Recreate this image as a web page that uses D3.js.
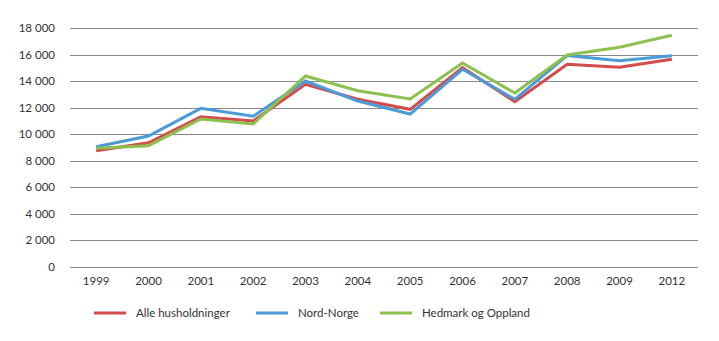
<!DOCTYPE html>
<html><head><meta charset="utf-8">
<script src="https://cdn.jsdelivr.net/npm/d3@7"></script>
<style>body{margin:0;background:#fff}text{font-family:Lato,sans-serif;fill:#333}</style>
</head><body><svg id="c" width="719" height="341"></svg>
<script>
const years = ["1999","2000","2001","2002","2003","2004","2005","2006","2007","2008","2009","2012"];
const alle = [8760,9360,11320,11000,13760,12630,11875,15010,12450,15265,15040,15640];
const nord = [9050,9866,11950,11350,14008,12500,11520,14890,12630,15920,15540,15915];
const hedmark = [8940,9136,11146,10770,14385,13280,12650,15364,13100,15966,16545,17450];
const yTicks = [0,2000,4000,6000,8000,10000,12000,14000,16000,18000];
const seriesNames = ["Alle husholdninger","Nord-Norge","Hedmark og Oppland"];

const colors = ["#d44b4c","#4a9bd7","#8dc04f"];
const svg = d3.select("#c");
const x = d3.scalePoint().domain(years).range([70,698]).padding(0.5);
const y = d3.scaleLinear().domain([0,18000]).range([267,28]);
const fmt = d => d3.format(",")(d).replace(/,/g," ");

svg.append("g").selectAll("line").data(yTicks).join("line")
  .attr("x1",70).attr("x2",698)
  .attr("y1",d=>Math.round(y(d))+0.5).attr("y2",d=>Math.round(y(d))+0.5)
  .attr("stroke","#8a8a8a").attr("stroke-width",1);
svg.append("g").selectAll("text").data(yTicks).join("text")
  .attr("x",55).attr("y",d=>y(d)+4).attr("text-anchor","end")
  .attr("font-size",11.5).text(fmt);
svg.append("g").selectAll("text").data(years).join("text")
  .attr("x",d=>x(d)).attr("y",285).attr("text-anchor","middle")
  .attr("font-size",11.5).text(d=>d);

const line = d3.line().x((d,i)=>x(years[i])).y(d=>y(d));
[alle,nord,hedmark].forEach((s,i)=>{
  svg.append("path").datum(s).attr("d",line).attr("fill","none")
    .attr("stroke",colors[i]).attr("stroke-width",3).attr("stroke-linejoin","miter");
});
const lx=[94,256,380];
seriesNames.forEach((n,i)=>{
  svg.append("line").attr("x1",lx[i]).attr("x2",lx[i]+32).attr("y1",313).attr("y2",313)
    .attr("stroke",colors[i]).attr("stroke-width",3);
  svg.append("text").attr("x",lx[i]+42).attr("y",317).attr("font-size",11.5).text(n);
});
</script></body></html>
